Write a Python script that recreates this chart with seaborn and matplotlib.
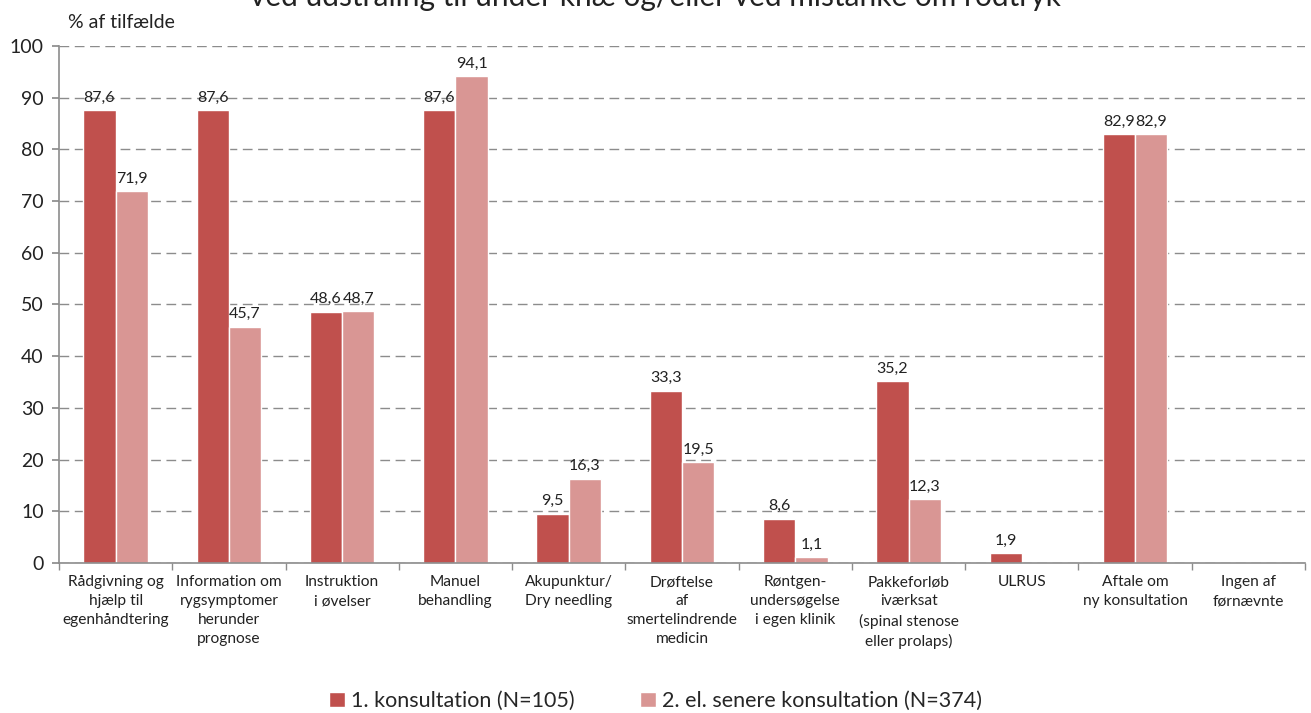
import numpy as np
import pandas as pd
import matplotlib
matplotlib.use("Agg")
import matplotlib.pyplot as plt
import seaborn as sns

# Data
categories = [
    "Rådgivning og\nhjælp til\negenhåndtering",
    "Information om\nrygsymptomer\nherunder\nprognose",
    "Instruktion\ni øvelser",
    "Manuel\nbehandling",
    "Akupunktur/\nDry needling",
    "Drøftelse\naf\nsmertelindrende\nmedicin",
    "Røntgen-\nundersøgelse\ni egen klinik",
    "Pakkeforløb\niværksat\n(spinal stenose\neller prolaps)",
    "ULRUS",
    "Aftale om\nny konsultation",
    "Ingen af\nførnævnte",
]
series_names = ["1. konsultation (N=105)", "2. el. senere konsultation (N=374)"]
first_visit = [87.6, 87.6, 48.6, 87.6, 9.5, 33.3, 8.6, 35.2, 1.9, 82.9, np.nan]
later_visit = [71.9, 45.7, 48.7, 94.1, 16.3, 19.5, 1.1, 12.3, np.nan, 82.9, np.nan]
colors = ["#C0504D", "#D99694"]
title = "ved udstråling til under knæ og/eller ved mistanke om rodtryk"

df = pd.DataFrame({"Kategori": categories, series_names[0]: first_visit,
                   series_names[1]: later_visit})
df_long = df.melt(id_vars="Kategori", var_name="Serie", value_name="Pct")

sns.set_theme(style="white")
plt.rcParams["font.family"] = ["Lato", "DejaVu Sans"]

fig = plt.figure(figsize=(13.11, 7.13), dpi=100)
ax = fig.add_axes([0.045, 0.2104, 0.9504, 0.7251])

sns.barplot(data=df_long, x="Kategori", y="Pct", hue="Serie", order=categories,
            hue_order=series_names, palette=colors, width=0.57, gap=0,
            saturation=1, ax=ax, legend=True)

for c in ax.containers:
    labels = ["" if np.isnan(v) else f"{v:.1f}".replace(".", ",") for v in c.datavalues]
    ax.bar_label(c, labels=labels, padding=4, fontsize=11.5, color="#222222")

ax.set_ylim(0, 100)
ax.set_xlim(-0.5, len(categories) - 0.5)
ax.set_yticks(range(0, 101, 10))
ax.yaxis.grid(True, color="#8c8c8c", linestyle=(0, (7, 4)), linewidth=1)
ax.set_axisbelow(True)
ax.set_xlabel("")
ax.set_ylabel("")

for s in ["top", "right"]:
    ax.spines[s].set_visible(False)
for s in ["left", "bottom"]:
    ax.spines[s].set_color("#8c8c8c")
    ax.spines[s].set_linewidth(1.2)

ax.set_xticks(range(len(categories)), labels=categories, linespacing=1.45,
              fontsize=11.2, color="#222222")
ax.tick_params(axis="y", which="major", left=True, length=5, color="#8c8c8c",
               labelsize=14, pad=6, labelcolor="#222222")
ax.tick_params(axis="x", which="major", length=0, pad=9)
ax.set_xticks(np.arange(-0.5, len(categories)), minor=True)
ax.tick_params(axis="x", which="minor", bottom=True, length=5, color="#8c8c8c")

fig.text(0.052, 0.968, "% af tilfælde", fontsize=14, color="#222222", va="center")
fig.text(0.5, 0.9916, title, fontsize=21.5, ha="center", va="baseline", color="#222222")

handles, labels = ax.get_legend_handles_labels()
ax.legend_.remove()
fig.legend(handles, labels, loc="center", bbox_to_anchor=(0.5, 12 / 713), ncol=2,
           frameon=False, fontsize=15.5, handlelength=0.75, handleheight=0.75,
           handletextpad=0.3, columnspacing=3.0, borderpad=0)

fig.savefig("out.png", dpi=100)
